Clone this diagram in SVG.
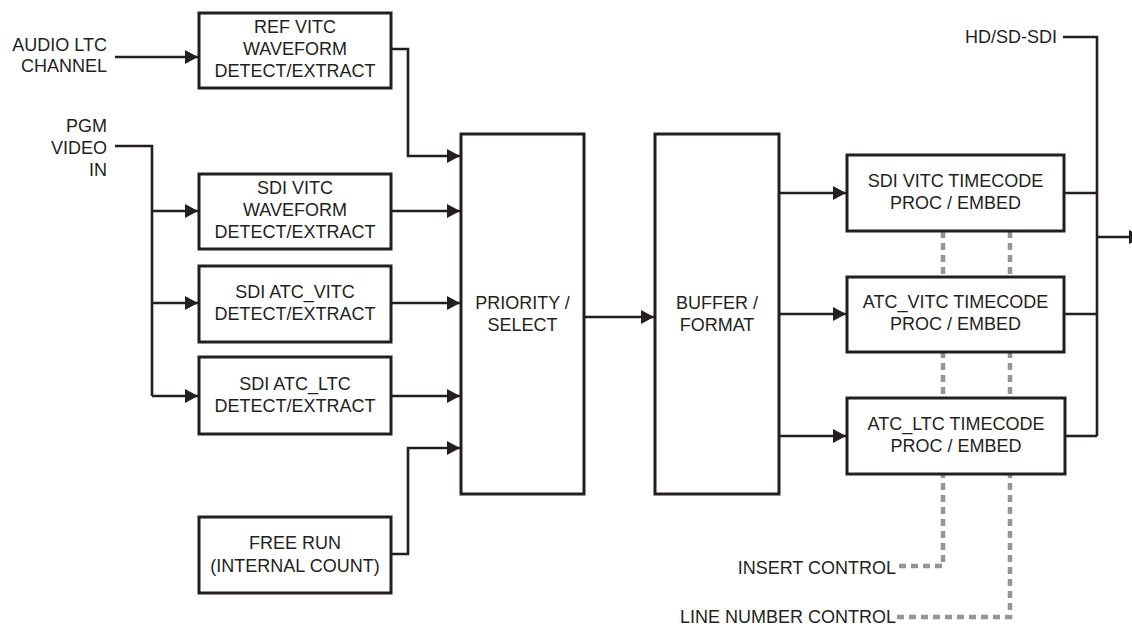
<svg xmlns="http://www.w3.org/2000/svg" width="1132" height="629" viewBox="0 0 1132 629">
<style>
  text { font-family: "Liberation Sans", Arial, sans-serif; font-size: 18px; fill: #231f20; }
  .c { text-anchor: middle; }
  .r { text-anchor: end; }
  .box { fill: #ffffff; stroke: #231f20; stroke-width: 3; }
  .ln { fill: none; stroke: #231f20; stroke-width: 2.6; }
  .ar { marker-end: url(#ah); }
  .dash { fill: none; stroke: #939598; stroke-width: 4.5; stroke-dasharray: 7 5; }
</style>
<defs>
  <marker id="ah" markerUnits="userSpaceOnUse" markerWidth="13" markerHeight="14" refX="13" refY="7" orient="auto">
    <path d="M0,0 L13,7 L0,14 z" fill="#231f20"/>
  </marker>
</defs>
<rect width="1132" height="629" fill="#ffffff"/>

<g id="connectors">
  <path class="dash" d="M943,231 V566 H897"/>
  <path class="dash" d="M1010,231 V617 H897"/>
  <path class="ln ar" d="M115,57 H198"/>
  <path class="ln ar" d="M391,49 H408 V156 H460"/>
  <path class="ln" d="M115,146 H152 V396"/>
  <path class="ln ar" d="M152,211 H198"/>
  <path class="ln ar" d="M152,303 H198"/>
  <path class="ln ar" d="M152,396 H198"/>
  <path class="ln ar" d="M391,211 H460"/>
  <path class="ln ar" d="M391,303 H460"/>
  <path class="ln ar" d="M391,396 H460"/>
  <path class="ln ar" d="M391,554 H408 V448 H460"/>
  <path class="ln ar" d="M584,317 H654"/>
  <path class="ln ar" d="M779,193 H846"/>
  <path class="ln ar" d="M779,314 H846"/>
  <path class="ln ar" d="M779,436 H846"/>
  <path class="ln" d="M1064,193 H1097"/>
  <path class="ln" d="M1064,314 H1097"/>
  <path class="ln" d="M1065,436 H1097"/>
  <path class="ln" d="M1063,37 H1097 V436"/>
  <path class="ln ar" d="M1097,237 H1142"/>
</g>

<g id="labels">
  <text class="r" x="107" y="51">AUDIO LTC</text>
  <text class="r" x="107" y="72">CHANNEL</text>
  <text class="r" x="107" y="132">PGM</text>
  <text class="r" x="107" y="154">VIDEO</text>
  <text class="r" x="107" y="176">IN</text>
  <text class="r" x="1057" y="43">HD/SD-SDI</text>
  <text class="r" x="896" y="574">INSERT CONTROL</text>
  <text class="r" x="896" y="623">LINE NUMBER CONTROL</text>
</g>

<g id="ref-vitc">
  <rect class="box" x="199" y="13" width="192" height="75"/>
  <text class="c" x="295" y="33">REF VITC</text>
  <text class="c" x="295" y="55">WAVEFORM</text>
  <text class="c" x="295" y="77">DETECT/EXTRACT</text>
</g>
<g id="sdi-vitc">
  <rect class="box" x="199" y="174" width="192" height="75"/>
  <text class="c" x="295" y="194">SDI VITC</text>
  <text class="c" x="295" y="216">WAVEFORM</text>
  <text class="c" x="295" y="238">DETECT/EXTRACT</text>
</g>
<g id="sdi-atc-vitc">
  <rect class="box" x="199" y="266" width="192" height="76"/>
  <text class="c" x="295" y="298">SDI ATC_VITC</text>
  <text class="c" x="295" y="320">DETECT/EXTRACT</text>
</g>
<g id="sdi-atc-ltc">
  <rect class="box" x="199" y="357" width="192" height="77"/>
  <text class="c" x="295" y="390">SDI ATC_LTC</text>
  <text class="c" x="295" y="412">DETECT/EXTRACT</text>
</g>
<g id="free-run">
  <rect class="box" x="199" y="517" width="192" height="76"/>
  <text class="c" x="295" y="549">FREE RUN</text>
  <text class="c" x="295" y="572">(INTERNAL COUNT)</text>
</g>
<g id="priority-select">
  <rect class="box" x="461" y="134" width="123" height="360"/>
  <text class="c" x="522.5" y="309">PRIORITY /</text>
  <text class="c" x="522.5" y="331">SELECT</text>
</g>
<g id="buffer-format">
  <rect class="box" x="655" y="134" width="124" height="360"/>
  <text class="c" x="717" y="309">BUFFER /</text>
  <text class="c" x="717" y="331">FORMAT</text>
</g>
<g id="sdi-vitc-timecode">
  <rect class="box" x="847" y="155" width="217" height="76"/>
  <text class="c" x="955.5" y="187">SDI VITC TIMECODE</text>
  <text class="c" x="955.5" y="209">PROC / EMBED</text>
</g>
<g id="atc-vitc-timecode">
  <rect class="box" x="847" y="277" width="217" height="75"/>
  <text class="c" x="955.5" y="308">ATC_VITC TIMECODE</text>
  <text class="c" x="955.5" y="330">PROC / EMBED</text>
</g>
<g id="atc-ltc-timecode">
  <rect class="box" x="847" y="398" width="218" height="76"/>
  <text class="c" x="956" y="430">ATC_LTC TIMECODE</text>
  <text class="c" x="956" y="452">PROC / EMBED</text>
</g>
</svg>
